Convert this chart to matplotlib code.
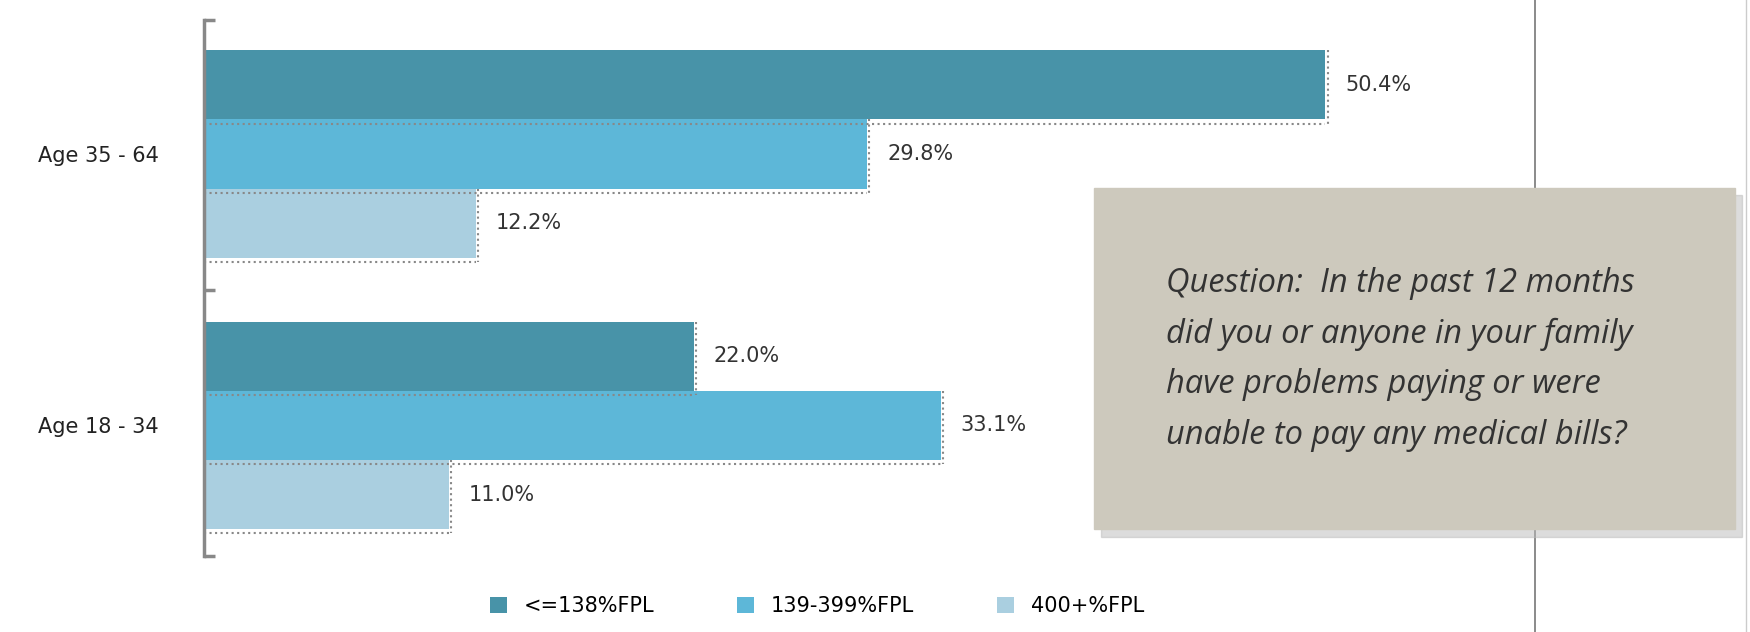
import numpy as np
import matplotlib.pyplot as plt
from matplotlib.patches import Rectangle
from matplotlib.lines import Line2D

groups = ["Age 35 - 64", "Age 18 - 34"]
series = ["<=138%FPL", "139-399%FPL", "400+%FPL"]
values = {
    "<=138%FPL": [50.4, 22.0],
    "139-399%FPL": [29.8, 33.1],
    "400+%FPL": [12.2, 11.0],
}
colors = ["#4893a8", "#5db7d8", "#aacfe0"]

W, H = 1568, 566
fig = plt.figure(figsize=(17.5, 6.32), dpi=100)
ax = fig.add_axes([183 / W, 1 - 498 / H, (1375 - 183) / W, 480 / H])

h = 62 / 243
y = np.arange(len(groups))
for i, s in enumerate(series):
    ys = y + (i - 1) * h
    bars = ax.barh(ys, values[s], height=h, color=colors[i], label=s,
                   edgecolor="none")
    for b, v in zip(bars, values[s]):
        ax.text(v + 0.9, b.get_y() + h / 2, f"{v:.1f}%", va="center",
                ha="left", fontsize=15, color="#333333")
        # dotted shadow under bars
        ax.plot([0, v], [b.get_y() + h + 0.015] * 2, ls=":", color="#888888", lw=1.5)
        ax.plot([v + 0.1] * 2, [b.get_y(), b.get_y() + h + 0.015], ls=":", color="#888888", lw=1.5)

ax.set_xlim(0, 59.8)
ax.set_ylim(1 + 117 / 243, -120 / 243)
for sp in ["top", "right", "bottom"]:
    ax.spines[sp].set_visible(False)
ax.spines["left"].set_color("#888888")
ax.spines["left"].set_linewidth(2.5)
ax.set_xticks([])
ax.set_yticks(y)
ax.set_yticklabels(groups, fontsize=15, color="#222222")
ax.tick_params(axis="y", which="major", length=0, pad=33)
ax.set_yticks([1 + 117 / 243, 0.5, -120 / 243], minor=True)
ax.tick_params(axis="y", which="minor", direction="in", length=8,
               width=2.5, color="#888888")

# right border lines
fig.add_artist(Line2D([1375 / W] * 2, [0, 1], color="#777777", lw=1.2))
fig.add_artist(Line2D([1564 / W] * 2, [0, 1], color="#cccccc", lw=1))

# text box with shadow
bx, by, bw, bh = 980 / W, 1 - 474 / H, 575 / W, 306 / H
fig.add_artist(Rectangle((bx + 0.004, by - 0.012), bw, bh, color="#bbbbbb",
                         alpha=0.5, zorder=4))
fig.add_artist(Rectangle((bx, by), bw, bh, color="#cdc9bd", zorder=5))
fig.text(1045 / W, 1 - 322 / H,
         "Question:  In the past 12 months\ndid you or anyone in your family\n"
         "have problems paying or were\nunable to pay any medical bills?",
         fontsize=23.5, style="italic", color="#333333", ha="left", va="center",
         linespacing=1.7, zorder=6, family="Open Sans")

fig.legend(loc="center", bbox_to_anchor=(732 / W, 1 - 543 / H), ncol=3,
           frameon=False, fontsize=15, handlelength=0.8, handleheight=0.8,
           columnspacing=4)

fig.savefig("out.png", facecolor="white")
